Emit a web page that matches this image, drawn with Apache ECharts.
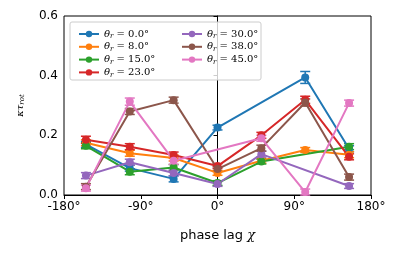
<!DOCTYPE html>
<html><head><meta charset="utf-8">
<script src="https://cdn.jsdelivr.net/npm/echarts@6/dist/echarts.min.js"></script>
<style>html,body{margin:0;padding:0;background:#fff}#c{width:399px;height:255px}</style>
</head><body><div id="c"></div>
<script>
const phaseLag = [-154.29, -102.86, -51.43, 0, 51.43, 102.86, 154.29];
const xTicks = [-180, -90, 0, 90, 180];
const yTicks = [0, 0.2, 0.4, 0.6];
const thetaLabels = ['0.0', '8.0', '15.0', '23.0', '30.0', '38.0', '45.0'];
const colors = ['#1f77b4', '#ff7f0e', '#2ca02c', '#d62728', '#9467bd', '#8c564b', '#e377c2'];
const theta0 = [0.17, 0.09, 0.054, 0.226, null, 0.394, 0.155];
const theta8 = [0.175, 0.14, 0.124, 0.074, 0.115, 0.151, 0.135];
const theta15 = [0.165, 0.078, 0.092, 0.04, 0.112, null, 0.162];
const theta23 = [0.185, 0.162, 0.134, 0.097, 0.2, 0.319, 0.128];
const theta30 = [0.065, 0.11, 0.074, 0.037, 0.137, null, 0.03];
const theta38 = [0.028, 0.28, 0.318, 0.087, 0.157, 0.31, 0.06];
const theta45 = [0.023, 0.313, 0.115, null, 0.19, 0.01, 0.308];
const err0 = [0.01, 0.01, 0.01, 0.008, 0, 0.02, 0.01];
const err8 = [0.01, 0.01, 0.01, 0.008, 0.008, 0.008, 0.01];
const err15 = [0.01, 0.01, 0.01, 0.008, 0.008, 0, 0.01];
const err23 = [0.012, 0.01, 0.01, 0.008, 0.01, 0.012, 0.01];
const err30 = [0.01, 0.01, 0.01, 0.008, 0.01, 0, 0.008];
const err38 = [0.01, 0.01, 0.01, 0.008, 0.01, 0.012, 0.01];
const err45 = [0.01, 0.012, 0.012, 0, 0.01, 0.01, 0.01];

const values = [theta0, theta8, theta15, theta23, theta30, theta38, theta45];
const errors = [err0, err8, err15, err23, err30, err38, err45];
const names = thetaLabels.map(t => '{i|θ}{s|r}{n| = ' + t + '°}');

const series = [];
values.forEach((vals, k) => {
  series.push({
    name: names[k], type: 'line', data: phaseLag.map((x, i) => [x, vals[i]]),
    connectNulls: true, symbol: 'circle', symbolSize: 8, showSymbol: true,
    color: colors[k], lineStyle: {width: 2}, itemStyle: {color: colors[k]},
    emphasis: {disabled: true}, animation: false
  });
  series.push({
    type: 'custom', animation: false, silent: true,
    data: phaseLag.map((x, i) => [x, vals[i], errors[k][i]]).filter(d => d[1] !== null),
    renderItem: function (params, api) {
      const x = api.value(0), y = api.value(1), e = api.value(2);
      const top = api.coord([x, y + e]), bot = api.coord([x, y - e]);
      const st = {stroke: colors[k], lineWidth: 1.5};
      return {type: 'group', children: [
        {type: 'line', shape: {x1: top[0], y1: top[1], x2: bot[0], y2: bot[1]}, style: st},
        {type: 'line', shape: {x1: top[0] - 5, y1: top[1], x2: top[0] + 5, y2: top[1]}, style: st},
        {type: 'line', shape: {x1: bot[0] - 5, y1: bot[1], x2: bot[0] + 5, y2: bot[1]}, style: st}
      ]};
    }
  });
});

const rich = {
  i: {fontFamily: 'DejaVu Serif', fontStyle: 'italic', fontSize: 10, color: '#000'},
  s: {fontFamily: 'DejaVu Serif', fontStyle: 'italic', fontSize: 7, color: '#000', verticalAlign: 'bottom', padding: [5, 0, 0, 0]},
  n: {fontFamily: 'DejaVu Serif', fontSize: 10, color: '#000'}
};
const legendBase = {
  orient: 'vertical', itemWidth: 20, itemHeight: 8, itemGap: 1.8,
  textStyle: {rich: rich}, formatter: n => n, selectedMode: false,
  inactiveColor: '#000'
};

const chart = echarts.init(document.getElementById('c'), null, {renderer: 'canvas'});
chart.setOption({
  animation: false,
  grid: {left: 64, right: 28, top: 16, bottom: 60, show: true, borderColor: '#000', borderWidth: 1, backgroundColor: 'transparent'},
  legend: [
    Object.assign({}, legendBase, {left: 73, top: 24, data: names.slice(0, 4)}),
    Object.assign({}, legendBase, {left: 176, top: 24, data: names.slice(4)})
  ],
  graphic: [{type: 'rect', shape: {x: 70, y: 22, width: 191, height: 58, r: 2}, style: {fill: 'rgba(255,255,255,0.8)', stroke: '#ccc', lineWidth: 1}, z: 3, silent: true}],
  xAxis: {
    type: 'value', min: -180, max: 180, interval: 90,
    axisLine: {show: true, onZero: false, lineStyle: {color: '#000', width: 1}},
    axisTick: {show: true, length: 4, lineStyle: {color: '#000'}},
    splitLine: {show: false},
    axisLabel: {formatter: v => xTicks.includes(v) ? v + '°' : '', color: '#000', fontSize: 12, fontFamily: 'DejaVu Sans', margin: 6},
    name: 'phase lag {c|χ}', nameLocation: 'middle', nameGap: 34,
    nameTextStyle: {color: '#000', fontSize: 13, fontFamily: 'DejaVu Sans', rich: {c: {fontFamily: 'DejaVu Serif', fontStyle: 'italic', fontSize: 13, color: '#000'}}}
  },
  yAxis: {
    type: 'value', min: 0, max: 0.6, interval: 0.2,
    axisLine: {show: true, lineStyle: {color: '#000', width: 1}},
    axisTick: {show: true, length: 4, lineStyle: {color: '#000'}},
    splitLine: {show: false},
    axisLabel: {formatter: v => yTicks.some(t => Math.abs(t - v) < 1e-9) ? v.toFixed(1) : '', color: '#000', fontSize: 12, fontFamily: 'DejaVu Sans', margin: 6},
    name: '{k|κτ}{s|rot}', nameLocation: 'middle', nameGap: 38, nameRotate: 90,
    nameTextStyle: {rich: {
      k: {fontFamily: 'DejaVu Serif', fontStyle: 'italic', fontSize: 10, color: '#000'},
      s: {fontFamily: 'DejaVu Serif', fontStyle: 'italic', fontSize: 7, color: '#000', verticalAlign: 'bottom', padding: [5, 0, 0, 0]}
    }}
  },
  series: series
});
</script></body></html>
